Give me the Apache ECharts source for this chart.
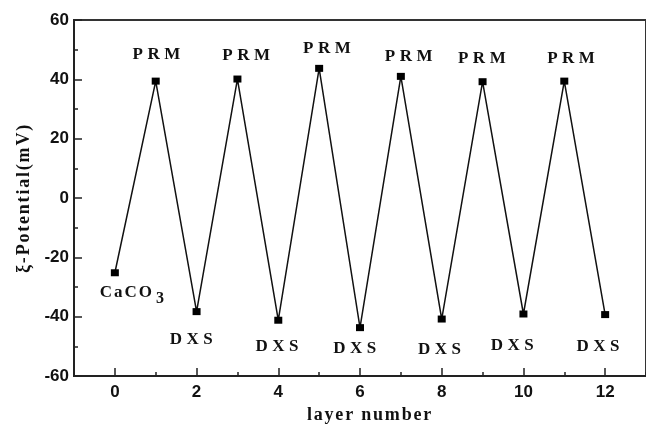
<!DOCTYPE html>
<html>
<head>
<meta charset="utf-8">
<script src="https://cdn.jsdelivr.net/npm/echarts@6/dist/echarts.min.js"></script>
<style>
html,body{margin:0;padding:0;background:#fff;}
#chart{width:646px;height:431px;}
</style>
</head>
<body>
<div id="chart"></div>
<script>
// ---- data ----
const layerNumbers = [0, 1, 2, 3, 4, 5, 6, 7, 8, 9, 10, 11, 12];
const zetaPotential = [-25.2, 39.4, -38.3, 40.1, -41.2, 43.7, -43.7, 41.0, -40.8, 39.2, -39.1, 39.4, -39.3];
const pointLabels = ['CaCO3', 'PRM', 'DXS', 'PRM', 'DXS', 'PRM', 'DXS', 'PRM', 'DXS', 'PRM', 'DXS', 'PRM', 'DXS'];
const xTickValues = [0, 2, 4, 6, 8, 10, 12];
const xAxisTitle = 'layer number';
const yAxisTitle = 'ξ-Potential(mV)';

// ---- layout (label placement relative to each point) ----
const labelOffsets = [[17, 20], [3, -27], [-3, 28], [11, -23], [1, 26], [10, -20], [-3, 21],
                      [10, -20], [0, 31], [1.5, -23], [-9, 32], [9, -23], [-5, 32]];

const serif = '"Liberation Serif", "Times New Roman", serif';
const sans = '"Liberation Sans", Arial, sans-serif';

function spaced(str, key) {
  return str.split('').map(c => '{' + key + '|' + c + '}').join('');
}

function labelText(name) {
  if (name === 'CaCO3') {
    return spaced('CaCO', 'c') + '{sub|3}';
  }
  return spaced(name, 'w');
}

const richStyles = {
  w: {fontFamily: serif, fontWeight: 'bold', fontSize: 17, color: '#111', padding: [0, 4.5, 0, 0]},
  c: {fontFamily: serif, fontWeight: 'bold', fontSize: 17, color: '#111', padding: [0, 2, 0, 0]},
  sub: {fontFamily: serif, fontWeight: 'bold', fontSize: 16, color: '#111', padding: [13, 0, 0, 2]}
};

const seriesData = layerNumbers.map((x, i) => ({
  value: [x, zetaPotential[i]],
  label: {
    show: true,
    position: 'inside',
    formatter: labelText(pointLabels[i]),
    rich: richStyles
  }
}));

const axisNameRich = {
  n: {fontFamily: serif, fontWeight: 'bold', fontSize: 18, color: '#111', padding: [0, 1.8, 0, 0]}
};

const chart = echarts.init(document.getElementById('chart'), null, {renderer: 'canvas'});
chart.setOption({
  animation: false,
  backgroundColor: '#fff',
  grid: {left: 74, right: -2, top: 20, bottom: 55, containLabel: false,
         show: true, borderColor: '#333', borderWidth: 2, backgroundColor: 'transparent'},
  xAxis: {
    // scale ticks fall on odd values (short ticks); minor ticks split them at even values (long ticks)
    type: 'value', min: -1, max: 13, interval: 2, position: 'bottom',
    name: spaced(xAxisTitle, 'n'), nameLocation: 'middle', nameGap: 16,
    nameTextStyle: {rich: axisNameRich, padding: [0, 0, 0, 20]},
    axisLine: {show: true, onZero: false, lineStyle: {color: '#222', width: 2}},
    axisTick: {show: true, inside: true, length: 4, lineStyle: {color: '#222', width: 1.5}},
    minorTick: {show: true, splitNumber: 2, length: 8, lineStyle: {color: '#222', width: 1.5}},
    axisLabel: {show: true, customValues: xTickValues, margin: 8, fontFamily: sans, fontWeight: 'bold', fontSize: 17, color: '#111'},
    splitLine: {show: false}
  },
  yAxis: {
    type: 'value', min: -60, max: 60, interval: 20,
    name: spaced(yAxisTitle, 'n'), nameLocation: 'middle', nameGap: 35, nameRotate: 90,
    nameTextStyle: {rich: axisNameRich},
    axisLine: {show: true, onZero: false, lineStyle: {color: '#222', width: 2}},
    axisTick: {show: true, inside: true, length: 8, lineStyle: {color: '#222', width: 1.5}},
    minorTick: {show: true, splitNumber: 2, length: 4, lineStyle: {color: '#222', width: 1.5}},
    axisLabel: {margin: 5, fontFamily: sans, fontWeight: 'bold', fontSize: 17, color: '#111'},
    splitLine: {show: false}
  },
  series: [{
    type: 'line',
    data: seriesData,
    symbol: 'rect',
    symbolSize: [8, 7],
    lineStyle: {color: '#111', width: 1.5},
    itemStyle: {color: '#000'},
    labelLayout: function (params) {
      const off = labelOffsets[params.dataIndex];
      return {dx: off[0], dy: off[1], hideOverlap: false};
    }
  }]
});
</script>
</body>
</html>
